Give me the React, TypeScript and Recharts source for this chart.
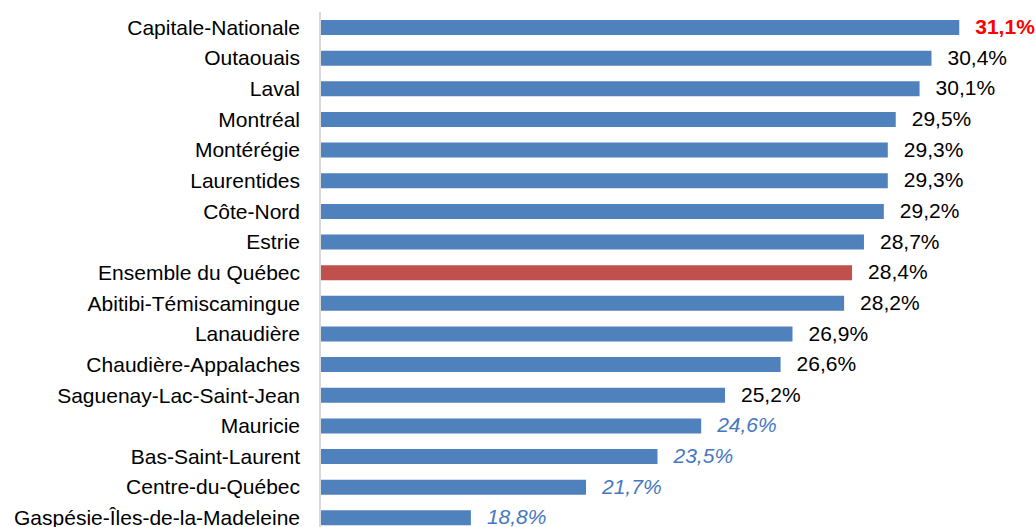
import { Bar, BarChart, Cell, LabelList, XAxis, YAxis } from "recharts";

// regions, top to bottom
const regions = [
  "Capitale-Nationale",
  "Outaouais",
  "Laval",
  "Montréal",
  "Montérégie",
  "Laurentides",
  "Côte-Nord",
  "Estrie",
  "Ensemble du Québec",
  "Abitibi-Témiscamingue",
  "Lanaudière",
  "Chaudière-Appalaches",
  "Saguenay-Lac-Saint-Jean",
  "Mauricie",
  "Bas-Saint-Laurent",
  "Centre-du-Québec",
  "Gaspésie-Îles-de-la-Madeleine",
];

const rates = [31.1, 30.4, 30.1, 29.5, 29.3, 29.3, 29.2, 28.7, 28.4, 28.2, 26.9, 26.6, 25.2, 24.6, 23.5, 21.7, 18.8];

// flagged rows
const provinceTotal = "Ensemble du Québec";
const topRegion = "Capitale-Nationale";
const lowPrecision = ["Mauricie", "Bas-Saint-Laurent", "Centre-du-Québec", "Gaspésie-Îles-de-la-Madeleine"];

const data = regions.map((name, i) => ({ name, value: rates[i] }));

const FONT = "'Liberation Sans', Arial, sans-serif";

function ValueLabel(props: any) {
  const { x, y, width, height, value, index } = props;
  const name = regions[index];
  let fill = "#000000";
  let fontWeight: any = "normal";
  let fontStyle = "normal";
  if (name === topRegion) {
    fill = "#ff0000";
    fontWeight = "bold";
  } else if (lowPrecision.includes(name)) {
    fill = "#4677c2";
    fontStyle = "italic";
  }
  return (
    <text
      x={x + width + 16}
      y={y + height / 2 + 1}
      dominantBaseline="middle"
      fill={fill}
      fontWeight={fontWeight}
      fontStyle={fontStyle}
      fontSize={21}
      fontFamily={FONT}
    >
      {value.toFixed(1).replace(".", ",")}%
    </text>
  );
}

export default function App() {
  return (
    <div style={{ position: "absolute", left: 0, top: 0, width: 1036, height: 527, overflow: "hidden", background: "#fff" }}>
      <BarChart
        width={1036}
        height={533}
        data={data}
        layout="vertical"
        margin={{ top: 12, right: 41, bottom: 0, left: 0 }}
        style={{ overflow: "visible" }}
      >
        <XAxis type="number" domain={[15, 32]} hide />
        <YAxis
          type="category"
          dataKey="name"
          width={320}
          interval={0}
          tickLine={false}
          tickSize={0}
          tickMargin={20}
          axisLine={{ stroke: "#d9d9d9", strokeWidth: 2 }}
          tick={{ fill: "#000000", fontSize: 21, fontFamily: FONT }}
        />
        <Bar dataKey="value" barSize={15} isAnimationActive={false}>
          {data.map((d, i) => (
            <Cell key={`cell-${i}`} fill={d.name === provinceTotal ? "#c0504d" : "#4f81bd"} />
          ))}
          <LabelList dataKey="value" content={ValueLabel} />
        </Bar>
      </BarChart>
    </div>
  );
}
